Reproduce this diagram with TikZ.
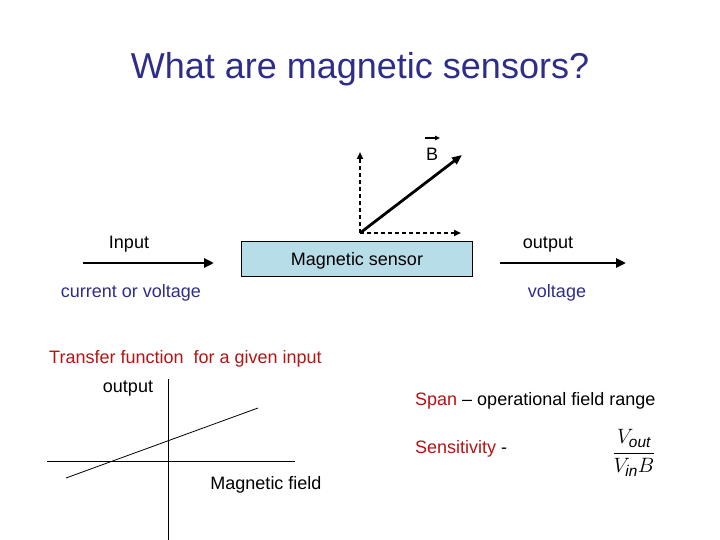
\documentclass[tikz,border=0pt]{standalone}
\usepackage{fontspec}
\setmainfont{Liberation Sans}
\newfontfamily\timesfont{Liberation Serif}
\usetikzlibrary{arrows.meta}
\definecolor{titleblue}{RGB}{46,46,138}
\definecolor{darkred}{RGB}{180,20,20}
\definecolor{boxblue}{RGB}{183,221,232}
\tikzset{
  lbl/.style={font=\fontsize{18}{20}\selectfont, inner sep=0pt, anchor=center, yshift=-1.5pt},
  redlbl/.style={lbl, text=darkred},
  flow/.style={line width=2.6pt, -{Triangle[length=10pt,width=9pt]}},
  dasharrow/.style={line width=1.8pt, dash pattern=on 4pt off 3pt, -{Triangle[length=7pt,width=6pt]}},
  vec/.style={line width=2.8pt, -{Triangle[length=10pt,width=8pt]}},
  axis/.style={line width=0.8pt},
}
\begin{document}
\begin{tikzpicture}[x=1pt,y=-1pt]
\useasboundingbox (0,0) rectangle (720,540);
% title
\node[font=\fontsize{36}{40}\selectfont, text=titleblue, inner sep=0pt, yshift=-1pt] (title) at (360,68) {What are magnetic sensors?};
% sensor box
\node[draw=black, line width=0.8pt, fill=boxblue, minimum width=231pt, minimum height=35pt, inner sep=0pt] (box) at (356.5,258.5) {};
\node[lbl] (boxtxt) at (357,259) {Magnetic sensor};
% vectors
\coordinate (o) at (360,233);
\coordinate (vup) at (360,152);
\coordinate (vright) at (461,233);
\coordinate (vtip) at (462,155);
\draw[dasharrow] (o) -- (vup);
\draw[dasharrow] (o) -- (vright);
\draw[vec] (o) -- (vtip);
\node[lbl] (B) at (432,153) {B};
\coordinate (bl) at (425,138);
\coordinate (br) at (440,138);
\draw[line width=1.4pt, -{Triangle[length=5pt,width=4.5pt]}] (bl) -- (br);
% input / output arrows
\coordinate (inA) at (83,263);
\coordinate (inB) at (214,263);
\coordinate (outA) at (500,263);
\coordinate (outB) at (626,263);
\draw[flow] (inA) -- (inB);
\draw[flow] (outA) -- (outB);
\node[lbl] (input) at (129,243) {Input};
\node[lbl] (output) at (548,243) {output};
\node[lbl, text=titleblue] (cv) at (131,291) {current or voltage};
\node[lbl, text=titleblue] (volt) at (557,291) {voltage};
% transfer function
\node[redlbl, anchor=west] (tf) at (49,357) {Transfer function\ \ for a given input};
\node[lbl] (outlbl) at (128,387) {output};
\coordinate (vaT) at (168,379);
\coordinate (vaB) at (168,540);
\coordinate (haL) at (47,461);
\coordinate (haR) at (295,461);
\coordinate (slA) at (66,478);
\coordinate (slB) at (258,408);
\draw[axis] (vaT) -- (vaB);
\draw[axis] (haL) -- (haR);
\draw[axis] (slA) -- (slB);
\node[lbl] (mf) at (266,483) {Magnetic field};
% span & sensitivity
\node[lbl, anchor=west] (span) at (415,399) {\textcolor{darkred}{Span} -- operational field range};
\node[lbl, anchor=west] (sens) at (415,447) {\textcolor{darkred}{Sensitivity} -};
\node[inner sep=0pt, font=\timesfont\fontsize{22}{24}\selectfont] (frac) at (634,453)
  {$\displaystyle\frac{V_{\mathit{out}}}{V_{\mathit{in}}B}$};
\end{tikzpicture}
\end{document}
